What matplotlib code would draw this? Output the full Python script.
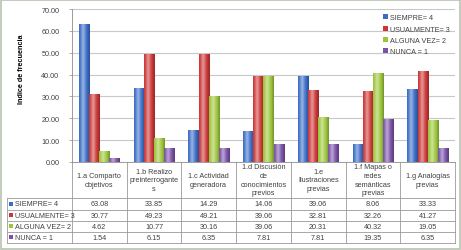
import matplotlib
matplotlib.use("Agg")
import matplotlib.pyplot as plt
from matplotlib.patches import Rectangle
from matplotlib.lines import Line2D
from matplotlib.colors import to_rgb
import numpy as np

categories = [
    "1.a Comparto\nobjetivos",
    "1.b Realizo\npreinterrogante\ns",
    "1.c Actividad\ngeneradora",
    "1.d Discusión\nde\nconocimientos\nprevios",
    "1.e\nIlustraciones\nprevias",
    "1.f Mapas o\nredes\nsemánticas\nprevias",
    "1.g Analogías\nprevias",
]
series_names = ["SIEMPRE= 4", "USUALMENTE= 3", "ALGUNA VEZ= 2", "NUNCA = 1"]
siempre = [63.08, 33.85, 14.29, 14.06, 39.06, 8.06, 33.33]
usualmente = [30.77, 49.23, 49.21, 39.06, 32.81, 32.26, 41.27]
alguna_vez = [4.62, 10.77, 30.16, 39.06, 20.31, 40.32, 19.05]
nunca = [1.54, 6.15, 6.35, 7.81, 7.81, 19.35, 6.35]
series = [siempre, usualmente, alguna_vez, nunca]
colors = ["#3A6CC6", "#CC3636", "#9CC63A", "#7B52A8"]

plt.rcParams["font.family"] = ["Liberation Sans", "DejaVu Sans"]
txt = "#404040"
fs = 5.2

fig = plt.figure(figsize=(4.61, 2.51), dpi=100)
fig.patches.append(Rectangle((0.003, 0.004), 0.994, 0.992, transform=fig.transFigure,
                             fill=False, edgecolor="#B7C4B0", linewidth=1.2))
ax = fig.add_axes([0.156, 0.351, 0.831, 0.609])

n = len(categories)
x = np.arange(n)
w = 0.185

# cylinder-like shading across each bar
u = np.linspace(0, 1, 24)
light = 0.45 * np.exp(-((u - 0.38) / 0.22) ** 2)
dark = 0.25 * np.clip(np.abs(u - 0.38) - 0.35, 0, None) / 0.27


def shaded(c):
    rgb = np.array(to_rgb(c))
    img = rgb[None, :] * (1 - light[:, None]) + light[:, None]
    img = img * (1 - dark[:, None])
    return img[None, :, :]


for k, (vals, c) in enumerate(zip(series, colors)):
    bars = ax.bar(x + (k - 1.5) * w, vals, width=w, color=c, linewidth=0, zorder=3)
    img = shaded(c)
    for b in bars:
        x0, y0 = b.get_x(), b.get_y()
        ax.imshow(img, extent=(x0, x0 + b.get_width(), y0, y0 + b.get_height()),
                  aspect="auto", zorder=4, interpolation="bilinear")

ax.set_xlim(-0.5, n - 0.5)
ax.set_ylim(0, 70)
ax.set_yticks(np.arange(0, 71, 10))
ax.set_yticklabels([f"{v:.2f}" for v in np.arange(0, 71, 10)], fontsize=fs, color=txt)
ax.set_xticks([])
ax.grid(axis="y", color="#C8C8C8", linewidth=0.8, zorder=0)
for s in ["top", "right"]:
    ax.spines[s].set_visible(False)
ax.spines["left"].set_color("#8C8C8C")
ax.spines["left"].set_linewidth(0.6)
ax.spines["bottom"].set_color("#8C8C8C")
ax.spines["bottom"].set_linewidth(0.6)
ax.tick_params(axis="y", length=2, width=0.5, color="#8C8C8C", pad=7)
ax.set_ylabel("Indice de frecuencia", fontsize=fs, fontweight="bold", color="black")
ax.yaxis.set_label_coords(-0.123, 0.61)

# data table below the axes
tr = ax.transAxes
lc = "#9A9A9A"
y_head = -0.235
row_y = [-0.235, -0.314, -0.386, -0.458, -0.530]
x_left = -0.170
colw = 1.0 / n


def line(xs, ys):
    ax.add_line(Line2D(xs, ys, transform=tr, color=lc, linewidth=0.6, clip_on=False))


for i in range(n + 1):
    line([i * colw, i * colw], [0, row_y[-1]])
line([x_left, x_left], [row_y[0], row_y[-1]])
for yy in row_y:
    line([x_left, 1], [yy, yy])

for i, cat in enumerate(categories):
    ax.text((i + 0.5) * colw, y_head / 2, cat, transform=tr, ha="center", va="center",
            fontsize=fs, color=txt, linespacing=1.35, clip_on=False)

for r, (name, vals, c) in enumerate(zip(series_names, series, colors)):
    yc = (row_y[r] + row_y[r + 1]) / 2
    ax.add_patch(Rectangle((x_left + 0.006, yc - 0.012), 0.011, 0.026, transform=tr,
                           facecolor=c, edgecolor="none", clip_on=False))
    ax.text(x_left + 0.021, yc, name, transform=tr, ha="left", va="center",
            fontsize=fs, color=txt, clip_on=False)
    for i, v in enumerate(vals):
        ax.text((i + 0.5) * colw, yc, f"{v:.2f}", transform=tr, ha="center", va="center",
                fontsize=fs, color=txt, clip_on=False)

handles = [Rectangle((0, 0), 1, 1, facecolor=c, edgecolor="none") for c in colors]
leg = ax.legend(handles, series_names, loc="upper left", bbox_to_anchor=(0.805, 0.985),
                frameon=False, fontsize=fs, handlelength=0.7, handleheight=0.7,
                handletextpad=0.3, labelspacing=0.6, borderaxespad=0)
for t in leg.get_texts():
    t.set_color(txt)

fig.savefig("out.png", dpi=100)
